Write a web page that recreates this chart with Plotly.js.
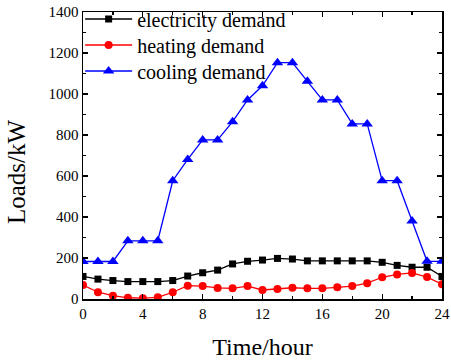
<!DOCTYPE html>
<html>
<head>
<meta charset="utf-8">
<script src="https://cdn.plot.ly/plotly-3.0.1.min.js"></script>
<style>html,body{margin:0;padding:0;background:#fff;}#chart{width:451px;height:364px;}</style>
</head>
<body>
<div id="chart"></div>
<script>
const hours = [0,1,2,3,4,5,6,7,8,9,10,11,12,13,14,15,16,17,18,19,20,21,22,23,24];
const electricity = [110,97,90,85,85,85,90,112,128,141,171,184,190,198,195,186,186,186,186,186,179,164,155,155,110];
const heating = [68,33,16,6,4,8,33,65,63,54,52,63,44,49,55,52,52,57,63,77,106,120,127,107,72];
const cooling = [183,183,183,284,284,284,577,681,776,776,865,971,1040,1153,1153,1062,971,971,854,854,577,577,380,184,184];
const names = ["electricity demand","heating demand","cooling demand"];
const xTicks = [0,4,8,12,16,20,24];
const yTicks = [0,200,400,600,800,1000,1200,1400];

const font = "'Liberation Serif','Times New Roman',serif";
const traces = [
  {x: hours, y: electricity, name: names[0], mode: 'lines+markers', legend: 'legend',
   line: {color: '#000000', width: 1.3}, marker: {symbol: 'square', size: 7, color: '#000000'}},
  {x: hours, y: heating, name: names[1], mode: 'lines+markers', legend: 'legend2',
   line: {color: '#ff0000', width: 1.3}, marker: {symbol: 'circle', size: 8, color: '#ff0000'}},
  {x: hours, y: cooling, name: names[2], mode: 'lines+markers', legend: 'legend3',
   line: {color: '#0000ff', width: 1.3}, marker: {symbol: 'triangle-up', size: 10, color: '#0000ff'}}
];
const axisCommon = {
  showline: true, linecolor: '#000', linewidth: 1.5, mirror: 'allticks',
  ticks: 'inside', ticklen: 5, tickwidth: 1.3, tickcolor: '#000',
  showgrid: false, zeroline: false,
  tickfont: {family: font, size: 15, color: '#000'}
};
function leg(y) {
  return {x: -0.008, y: y, xanchor: 'left', yanchor: 'middle', yref: 'container',
          bgcolor: 'rgba(0,0,0,0)',
          font: {family: font, size: 20, color: '#000'}, itemwidth: 47};
}
const layout = {
  width: 451, height: 364,
  margin: {l: 83, r: 9, t: 12, b: 65, autoexpand: false},
  paper_bgcolor: '#fff', plot_bgcolor: '#fff',
  font: {family: font, color: '#000'},
  showlegend: true,
  legend: leg(0.9478),
  legend2: leg(0.8764),
  legend3: leg(0.8049),
  xaxis: Object.assign({}, axisCommon, {
    range: [0, 24], tickvals: xTicks, ticktext: xTicks.map(String),
    minor: {dtick: 2, tick0: 0, ticks: 'inside', ticklen: 3, tickcolor: '#000', tickwidth: 1.2},
    title: {text: 'Time/hour', font: {family: font, size: 24, color: '#000'}, standoff: 17}
  }),
  yaxis: Object.assign({}, axisCommon, {
    range: [0, 1400], tickvals: yTicks, ticktext: yTicks.map(String),
    minor: {dtick: 100, tick0: 0, ticks: 'inside', ticklen: 3, tickcolor: '#000', tickwidth: 1.2}
  }),
  annotations: [
    {text: 'Loads/kW', xref: 'paper', yref: 'paper', x: -0.1866, y: 0.4425,
     xanchor: 'center', yanchor: 'middle', textangle: -90, showarrow: false,
     font: {family: font, size: 25, color: '#000'}}
  ]
};
Plotly.newPlot('chart', traces, layout, {displayModeBar: false, staticPlot: true});
</script>
</body>
</html>
